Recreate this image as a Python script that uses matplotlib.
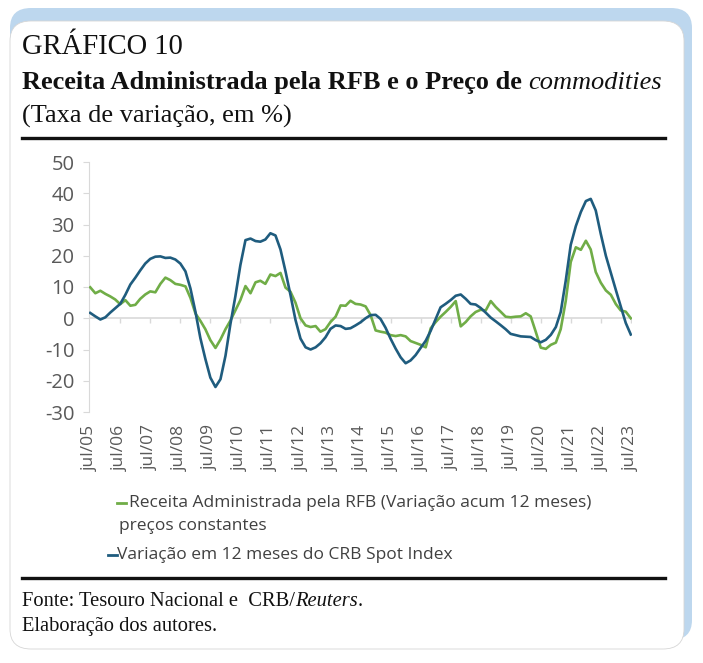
import matplotlib
matplotlib.use("Agg")
import matplotlib.pyplot as plt
from matplotlib.patches import FancyBboxPatch
from matplotlib.lines import Line2D
import pandas as pd

plt.rcParams["font.family"] = "Open Sans"
plt.rcParams["axes.unicode_minus"] = False

# datas a cada 2 meses, jul/05 a jul/23
datas = pd.date_range("2005-07-01", "2023-07-01", freq="2MS")

# Variação em 12 meses do CRB Spot Index (%)
crb = [1.7, 0.6, -0.4, 0.3, 1.8, 3.2, 4.6, 7.5, 10.8, 13.0, 15.3, 17.5,
       19.0, 19.7, 19.8, 19.3, 19.4, 18.8, 17.5, 15.0, 9.5, 2.0, -6.3, -13.0,
       -19.0, -22.0, -19.5, -12.0, -2.0, 7.0, 17.0, 25.0, 25.5, 24.7, 24.5, 25.2,
       27.2, 26.5, 22.0, 15.0, 7.5, -0.5, -6.5, -9.3, -10.0, -9.3, -8.0, -6.1,
       -3.4, -2.3, -2.5, -3.4, -3.2, -2.3, -1.3, 0.0, 1.0, 1.1, -0.2, -3.0,
       -6.5, -9.7, -12.5, -14.4, -13.5, -11.8, -9.5, -7.2, -4.0, -0.2, 3.5, 4.6,
       5.8, 7.2, 7.6, 6.2, 4.6, 4.4, 3.3, 1.8, 0.2, -1.0, -2.2, -3.5,
       -5.0, -5.4, -5.8, -5.9, -6.0, -7.0, -7.7, -6.9, -5.3, -2.8, 2.0, 12.0,
       23.5, 29.5, 34.0, 37.5, 38.2, 34.5, 27.0, 20.0, 14.5, 9.0, 3.8, -1.5,
       -5.2]

# Receita Administrada pela RFB, variação acumulada 12 meses (%)
receita = [9.9, 8.0, 8.8, 7.8, 7.0, 6.0, 4.5, 5.8, 4.0, 4.3, 6.2, 7.6,
           8.6, 8.3, 11.0, 13.0, 12.2, 11.0, 10.7, 10.2, 6.5, 1.5, -0.8, -3.5,
           -7.0, -9.5, -6.8, -3.5, -0.8, 2.5, 5.8, 10.3, 8.0, 11.5, 12.0, 11.0,
           14.0, 13.5, 14.5, 9.8, 8.5, 5.0, 0.0, -2.3, -2.8, -2.5, -4.3, -3.5,
           -1.2, 0.5, 4.1, 4.0, 5.6, 4.6, 4.4, 3.8, 1.0, -3.9, -4.3, -4.6,
           -5.4, -5.7, -5.4, -5.8, -7.3, -7.9, -8.5, -9.3, -3.2, -1.2, 0.5, 2.0,
           3.6, 5.5, -2.6, -1.2, 0.6, 2.0, 2.7, 2.5, 5.5, 3.6, 2.1, 0.5,
           0.3, 0.5, 0.6, 1.6, 0.6, -4.3, -9.4, -9.8, -8.5, -7.8, -3.5, 5.5,
           18.0, 22.7, 21.9, 24.8, 22.0, 14.8, 11.4, 8.9, 7.5, 4.5, 2.5, 2.1,
           0.0]

anos_tick = pd.date_range("2005-07-01", "2023-07-01", freq="12MS")
labels_tick = ["jul/" + d.strftime("%y") for d in anos_tick]

W, H = 703, 663
fig = plt.figure(figsize=(W / 100, H / 100), dpi=100)

def fx(px):
    return px / W

def fy(py):
    return 1 - py / H

# moldura (cartão com borda azul no topo e à direita)
fig.add_artist(FancyBboxPatch((fx(10), fy(640)), fx(682), (640 - 8) / H,
                              boxstyle="round,pad=0,rounding_size=0.03",
                              transform=fig.transFigure, facecolor="#BDD7EE",
                              edgecolor="none", zorder=0))
fig.add_artist(FancyBboxPatch((fx(10), fy(649)), fx(674), (649 - 21) / H,
                              boxstyle="round,pad=0,rounding_size=0.03",
                              transform=fig.transFigure, facecolor="white",
                              edgecolor="#D6D6D6", linewidth=0.6, zorder=0))

serif = "Liberation Serif"
preto = "#111111"

fig.text(fx(22), fy(47), "GRÁFICO 10", family=serif, fontsize=20.6,
         va="center", ha="left", color=preto)
t1 = fig.text(fx(22), fy(83), "Receita Administrada pela RFB e o Preço de ",
              family=serif, fontsize=19, fontweight="bold", va="center",
              ha="left", color=preto)
fig.text(fx(22), fy(116), "(Taxa de variação, em %)", family=serif,
         fontsize=19, va="center", ha="left", color=preto)

fig.add_artist(Line2D([fx(22), fx(665)], [fy(138), fy(138)], color=preto,
                      linewidth=2.4, transform=fig.transFigure))
fig.add_artist(Line2D([fx(22), fx(665)], [fy(578), fy(578)], color=preto,
                      linewidth=2.4, transform=fig.transFigure))

f1 = fig.text(fx(22), fy(601), "Fonte: Tesouro Nacional e  CRB/", family=serif,
              fontsize=14.8, va="center", ha="left", color=preto)
fig.text(fx(22), fy(627), "Elaboração dos autores.", family=serif,
         fontsize=14.8, va="center", ha="left", color=preto)

# gráfico
ax = fig.add_axes([fx(89), fy(412), fx(632 - 89), (412 - 162) / H])
ax.plot(datas, receita, color="#70AD47", linewidth=1.9, zorder=3)
ax.plot(datas, crb, color="#1F5C7E", linewidth=1.9, zorder=4)

ax.set_xlim(pd.Timestamp("2005-06-16"), pd.Timestamp("2023-07-16"))
ax.set_ylim(-30, 50)
ax.set_yticks(range(-30, 51, 10))
ax.set_xticks(anos_tick)
ax.set_xticklabels(labels_tick, rotation=90)

for s in ["top", "right", "bottom"]:
    ax.spines[s].set_visible(False)
ax.spines["left"].set_color("#D9D9D9")
ax.tick_params(axis="y", colors="#D9D9D9", length=4.5, labelcolor="#595959",
               labelsize=14.5, pad=6)
ax.tick_params(axis="x", length=0, labelcolor="#595959", labelsize=12.5, pad=9)

ax.axhline(0, color="#D9D9D9", linewidth=1.2, zorder=1)
ax.vlines(anos_tick[1:], -1.6, 0, color="#D9D9D9", linewidth=1.0, zorder=1)

# legenda
cinza = "#404040"
fig.add_artist(Line2D([fx(117), fx(126)], [fy(503), fy(503)], color="#70AD47",
                      linewidth=2, transform=fig.transFigure))
fig.text(fx(129), fy(503), "Receita Administrada pela RFB (Variação acum 12 meses)",
         fontsize=12.5, va="center", ha="left", color=cinza)
fig.text(fx(119), fy(526), "preços constantes",
         fontsize=12.5, va="center", ha="left", color=cinza)
fig.add_artist(Line2D([fx(108), fx(117)], [fy(555), fy(555)], color="#1F5C7E",
                      linewidth=2, transform=fig.transFigure))
fig.text(fx(117), fy(555), "Variação em 12 meses do CRB Spot Index",
         fontsize=12.5, va="center", ha="left", color=cinza)

# partes em itálico
fig.canvas.draw()
r = fig.canvas.get_renderer()
bb = t1.get_window_extent(r)
fig.text(bb.x1 / W, fy(83), "commodities", family=serif, fontsize=19,
         style="italic", va="center", ha="left", color=preto)
bb = f1.get_window_extent(r)
it = fig.text(bb.x1 / W, fy(601), "Reuters", family=serif, fontsize=14.8,
              style="italic", va="center", ha="left", color=preto)
fig.canvas.draw()
bb = it.get_window_extent(r)
fig.text(bb.x1 / W, fy(601), ".", family=serif, fontsize=14.8,
         va="center", ha="left", color=preto)

fig.savefig("out.png", dpi=100)
